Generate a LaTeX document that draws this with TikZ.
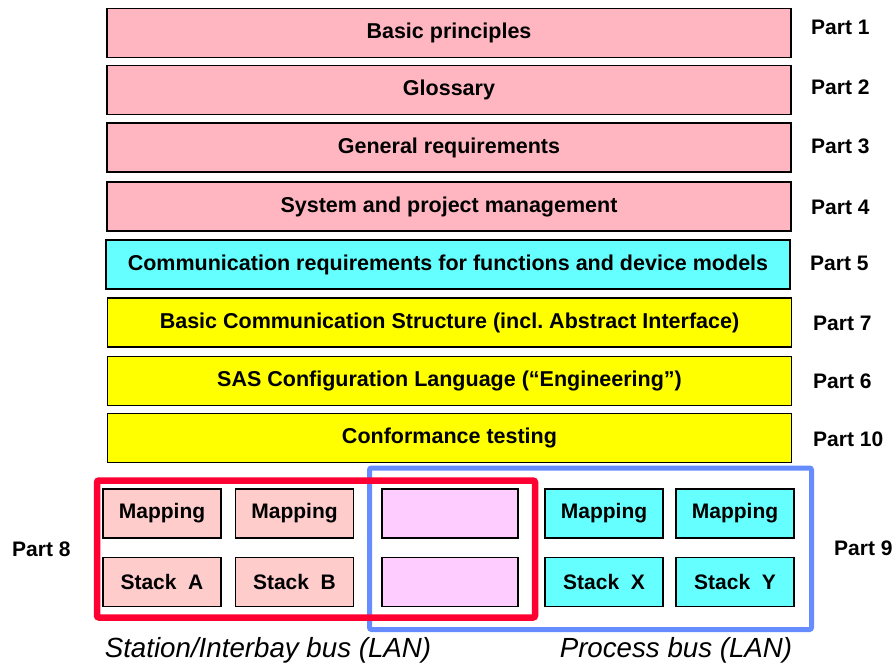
\documentclass[tikz,border=0pt]{standalone}
\usepackage{fontspec}
\setmainfont{Liberation Sans}
\usepackage{tikz}
\usetikzlibrary{shapes,arrows.meta,positioning}

\definecolor{barpink}{RGB}{255,182,193}
\definecolor{barcyan}{RGB}{102,255,255}
\definecolor{baryellow}{RGB}{255,255,0}
\definecolor{boxpink}{RGB}{255,204,204}
\definecolor{boxmagenta}{RGB}{255,204,255}
\definecolor{lanred}{RGB}{255,0,51}
\definecolor{lanblue}{RGB}{102,140,255}

\tikzset{
	bar/.style={draw, line width=1.2pt, minimum width=684pt, minimum height=49pt, inner sep=0pt, font=\fontsize{21.5}{24}\selectfont\bfseries},
	part/.style={anchor=west, inner sep=0pt, font=\fontsize{21}{24}\selectfont\bfseries},
	smallbox/.style={draw, line width=1.2pt, minimum width=118pt, minimum height=49pt, inner sep=0pt, font=\fontsize{21}{24}\selectfont\bfseries},
	bus/.style={font=\fontsize{27.7}{30}\selectfont\itshape}
}

\begin{document}
\begin{tikzpicture}[x=1pt,y=-1pt]
	\useasboundingbox (0,0) rectangle (895,666);
	
	% the parts as bars
	\node[bar, fill=barpink] (b1) at (449,33) {Basic principles};
	\node[bar, fill=barpink] (b2) at (449,90) {Glossary};
	\node[bar, fill=barpink] (b3) at (449,147.5) {General requirements};
	\node[bar, fill=barpink] (b4) at (449,206.5) {System and project management};
	\node[bar, fill=barcyan] (b5) at (448,264.5) {Communication requirements for functions and device models};
	\node[bar, fill=baryellow] (b6) at (449.5,322.5) {Basic Communication Structure (incl.\ Abstract Interface)};
	\node[bar, fill=baryellow] (b7) at (449.5,381) {SAS Configuration Language (``Engineering'')};
	\node[bar, fill=baryellow] (b8) at (449.5,438) {Conformance testing};
	
	\node[part] (p1) at (811,27) {Part 1};
	\node[part] (p2) at (811,87) {Part 2};
	\node[part] (p3) at (811,146) {Part 3};
	\node[part] (p4) at (811,207) {Part 4};
	\node[part] (p5) at (810,263) {Part 5};
	\node[part] (p7) at (813,323) {Part 7};
	\node[part] (p6) at (813,381) {Part 6};
	\node[part] (p10) at (813,439) {Part 10};
	
	% the two buses
	\draw[lanblue, line width=5pt, rounded corners=2pt] (369.5,468) rectangle (811.5,629.5);
	\draw[lanred, line width=6.5pt, rounded corners=2pt] (97,480.5) rectangle (535,617.5);
	
	\node[smallbox, fill=boxpink] (m1) at (162,513.5) {Mapping};
	\node[smallbox, fill=boxpink] (m2) at (294.5,513.5) {Mapping};
	\node[smallbox, fill=boxmagenta, minimum width=136pt] (e1) at (450,513.5) {};
	\node[smallbox, fill=barcyan] (m3) at (604,513.5) {Mapping};
	\node[smallbox, fill=barcyan] (m4) at (735,513.5) {Mapping};
	
	\node[smallbox, fill=boxpink] (s1) at (162,582) {Stack\ \ A};
	\node[smallbox, fill=boxpink] (s2) at (294.5,582) {Stack\ \ B};
	\node[smallbox, fill=boxmagenta, minimum width=136pt] (e2) at (450,582) {};
	\node[smallbox, fill=barcyan] (s3) at (604,582) {Stack\ \ X};
	\node[smallbox, fill=barcyan] (s4) at (735,582) {Stack\ \ Y};
	
	\node[part] (p8) at (12,549) {Part 8};
	\node[part] (p9) at (834,548) {Part 9};
	
	\node[bus] (lan1) at (268,650) {Station/Interbay bus (LAN)};
	\node[bus] (lan2) at (676,650) {Process bus (LAN)};
\end{tikzpicture}
\end{document}
